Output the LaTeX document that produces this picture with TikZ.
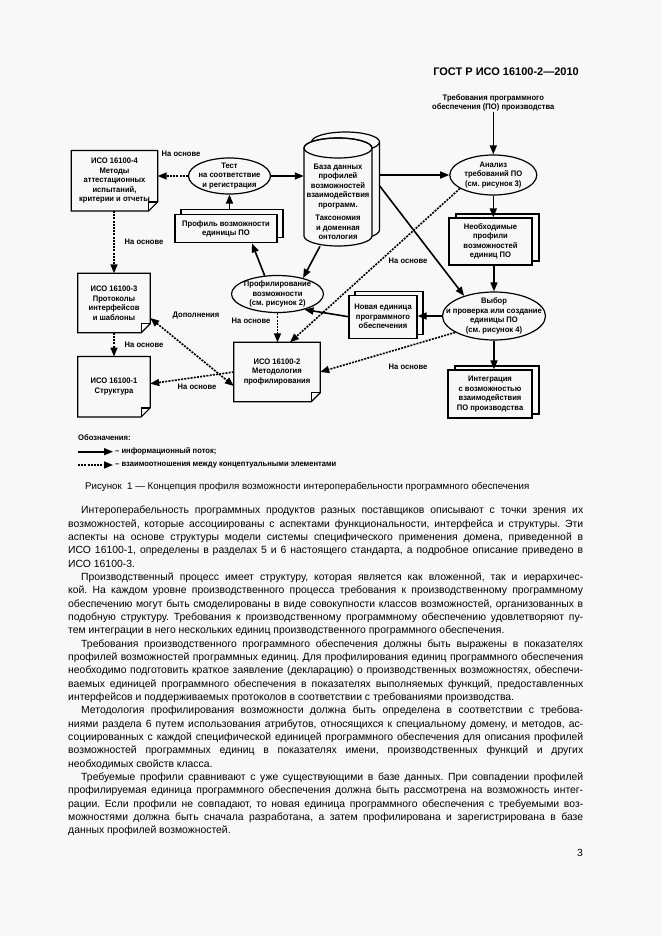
\documentclass[tikz,border=0pt]{standalone}
\usepackage{fontspec}
\setmainfont{Liberation Sans}
\newfontfamily\dgfam[FakeStretch=0.95]{Liberation Sans}
\usetikzlibrary{arrows.meta,calc,shapes.geometric}
\definecolor{bg}{RGB}{248,248,248}
\frenchspacing
\newcommand\dgf{\dgfam\bfseries\fontsize{8}{9.5}\selectfont}
\newcommand\docoutline[1]{%
  \draw[lw] (#1.north west) -- (#1.north east) -- ([yshift=9pt]#1.south east) -- ([xshift=-9pt]#1.south east) -- (#1.south west) -- cycle;
  \draw[lw] ([xshift=-9pt]#1.south east) -- ([xshift=-9pt,yshift=9pt]#1.south east) -- ([yshift=9pt]#1.south east);}
\tikzset{
  lw/.style={line width=1.2pt, line join=miter},
  every node/.style={inner sep=0pt},
  lbl/.style={font=\dgf, align=center},
  docbox/.style={font=\dgf, align=center},
  pbox/.style={draw, lw, fill=bg, font=\dgf, align=center},
  bkbox/.style={draw, lw},
  ell/.style={ellipse, draw, lw, fill=bg, font=\dgf, align=center, inner sep=-30pt},
  tip/.tip={Triangle[length=9pt,width=7pt]},
  arr/.style={line width=1.6pt, -tip},
  darr/.style={line width=1.6pt, dash pattern=on 2pt off 1.2pt, -tip},
  ddarr/.style={line width=1.6pt, dash pattern=on 2pt off 1.2pt, tip-tip},
}
\begin{document}
\begin{tikzpicture}[x=1pt,y=-1pt]
\fill[bg] (0,0) rectangle (661,936);
\useasboundingbox (0,0) rectangle (661,936);

% header
\node[anchor=east, font=\fontsize{11}{13}\selectfont\bfseries] (hdr) at (579,72) {ГОСТ Р ИСО 16100-2—2010};

% ---------- left column documents
\node[docbox, minimum width=86pt, minimum height=60pt] (iso4) at (114.5,180.7) {ИСО 16100-4\\Методы\\аттестационных\\испытаний,\\критерии и отчеты};
\docoutline{iso4}
\node[docbox, minimum width=72pt, minimum height=59pt] (iso3) at (114,303) {ИСО 16100-3\\Протоколы\\интерфейсов\\и шаблоны};
\docoutline{iso3}
\node[docbox, minimum width=72pt, minimum height=60pt] (iso1) at (114,386.7) {ИСО 16100-1\\Структура};
\docoutline{iso1}
\node[docbox, minimum width=86pt, minimum height=59pt] (iso2) at (277,372) {ИСО 16100-2\\Методология\\профилирования};
\docoutline{iso2}

% ---------- ellipses
\node[ell, minimum width=82pt, minimum height=36pt] (test) at (229.5,176) {Тест\\на соответствие\\и регистрация};
\node[ell, minimum width=87pt, minimum height=40pt] (anal) at (493.3,175) {Анализ\\требований ПО\\(см. рисунок 3)};
\node[ell, minimum width=92pt, minimum height=37pt] (prof) at (277.5,294) {Профилирование\\возможности\\(см. рисунок 2)};
\node[ell, minimum width=103pt, minimum height=48pt] (vyb) at (494,316) {Выбор\\и проверка или создание\\единицы ПО\\(см. рисунок 4)};

% ---------- double boxes
\node[bkbox, minimum width=102pt, minimum height=28pt] (profbk) at (232,223.8) {};
\node[pbox, minimum width=102pt, minimum height=28pt] (profbox) at (226,228.8) {Профиль возможности\\единицы ПО};

\node[bkbox, minimum width=83pt, minimum height=47pt] (needbk) at (497.5,237.5) {};
\node[pbox, minimum width=83pt, minimum height=47pt] (need) at (490.5,241.5) {Необходимые\\профили\\возможностей\\единиц ПО};

\node[bkbox, minimum width=84pt, minimum height=48pt] (integbk) at (497,390) {};
\node[pbox, minimum width=84pt, minimum height=48pt] (integ) at (490,394) {Интеграция\\с возможностью\\взаимодействия\\ПО производства};

\node[bkbox, minimum width=68pt, minimum height=43pt] (newbk) at (389,312.7) {};
\node[pbox, minimum width=68pt, minimum height=43pt] (new) at (383,316.7) {Новая единица\\программного\\обеспечения};

% ---------- database cylinder
\draw[lw] (345.5,142) ellipse[x radius=34pt, y radius=10pt];
\draw[lw] (311.5,142) -- (311.5,230) arc[start angle=180, end angle=360, x radius=34pt, y radius=10pt] -- (379.5,142);
\filldraw[lw, fill=bg] (304,148) -- (304,236) arc[start angle=180, end angle=360, x radius=34pt, y radius=10pt] -- (372,148) arc[start angle=0, end angle=180, x radius=34pt, y radius=10pt] -- cycle;
\draw[lw] (338,148) ellipse[x radius=34pt, y radius=10pt];
\node[minimum width=68pt, minimum height=108pt] (db) at (338,192) {};
\node[minimum width=68pt, minimum height=108pt] (dbk) at (345.5,186) {};
\node[lbl] (dbtxt) at (338,202) {База данных\\профилей\\возможностей\\взаимодействия\\программ.\\[4pt]Таксономия\\и доменная\\онтология};

% requirements text
\node[lbl] (req) at (493.3,103) {Требования программного\\обеспечения (ПО) производства};

% ---------- connectors (solid)
\draw[arr] (test.east) -- (test.east -| db.west);
\draw[arr] (test.south |- profbk.north) -- (test.south);
\draw[arr] (anal.west -| dbk.east) -- (anal.west);
\draw[arr] (req.south) -- (anal.north);
\draw[arr] (anal.south) -- (anal.south |- need.north);
\draw[arr] (vyb.north |- need.south) -- (vyb.north);
\draw[arr] (vyb.south) -- (vyb.south |- integ.north);
\draw[arr] (vyb.west) -- (vyb.west -| new.east);
\draw[arr] (new.west) -- (prof.-30);
\draw[arr] (prof.125) -- ([xshift=26pt]profbox.south);
\draw[arr] ([xshift=-18pt]db.south) -- (prof.32);
\draw[arr] (dbk.east) -- (vyb.146);

% ---------- connectors (dashed)
\draw[darr] (test.west) -- (test.west -| iso4.east);
\draw[darr] (iso3.north |- iso4.south) -- (iso3.north);
\draw[darr] (iso3.south) -- (iso1.north);
\draw[ddarr] ([yshift=-15pt]iso3.east) -- ([yshift=-14pt]iso2.west);
\draw[darr] (iso2.west) -- ([yshift=3pt]iso1.east);
\draw[darr] (prof.south) -- (prof.south |- iso2.north);
\draw[darr] (anal.202) -- ([xshift=13pt]iso2.north);
\draw[darr] (vyb.203) -- (iso2.east);

% ---------- labels
\node[lbl] (l1) at (181,154) {На основе};
\node[lbl] (l2) at (144,242) {На основе};
\node[lbl] (l3) at (144,345) {На основе};
\node[lbl] (l4) at (196,316) {Дополнения};
\node[lbl] (l5) at (251,321) {На основе};
\node[lbl] (l6) at (197,387) {На основе};
\node[lbl] (l7) at (408,261) {На основе};
\node[lbl] (l8) at (408,367) {На основе};

% ---------- legend
\node[lbl, anchor=west] (legt) at (78,438) {Обозначения:};
\coordinate (la) at (78,451.7);
\node[lbl, anchor=west] (leg1) at (115,451.7) {– информационный поток;};
\draw[arr] (la) -- ([xshift=-2pt]leg1.west);
\coordinate (lb) at (78,465);
\node[lbl, anchor=west] (leg2) at (115,465) {– взаимоотношения между концептуальными элементами};
\draw[darr] (lb) -- ([xshift=-2pt]leg2.west);

% caption
\node[anchor=west, font=\fontsize{9.7}{11}\selectfont] (cap) at (85,487) {Рисунок\ \ 1 — Концепция профиля возможности интероперабельности программного обеспечения};

% body text
\node[anchor=north west] (body) at (68,506) {\parbox{515pt}{\fontsize{10.4}{13.33}\selectfont
\setlength\parindent{13pt}\setlength\parskip{0pt}\tolerance=9999 \hbadness=10000 \exhyphenpenalty=10000 \hyphenpenalty=10000
Интероперабельность программных продуктов разных поставщиков описывают с точки зрения их\linebreak
возможностей, которые ассоциированы с аспектами функциональности, интерфейса и структуры. Эти\linebreak
аспекты на основе структуры модели системы специфического применения домена, приведенной в\linebreak
ИСО 16100-1, определены в разделах 5 и 6 настоящего стандарта, а подробное описание приведено в\linebreak
ИСО 16100-3.

Производственный процесс имеет структуру, которая является как вложенной, так и иерархичес-\linebreak
кой. На каждом уровне производственного процесса требования к производственному программному\linebreak
обеспечению могут быть смоделированы в виде совокупности классов возможностей, организованных в\linebreak
подобную структуру. Требования к производственному программному обеспечению удовлетворяют пу-\linebreak
тем интеграции в него нескольких единиц производственного программного обеспечения.

Требования производственного программного обеспечения должны быть выражены в показателях\linebreak
профилей возможностей программных единиц. Для профилирования единиц программного обеспечения\linebreak
необходимо подготовить краткое заявление (декларацию) о производственных возможностях, обеспечи-\linebreak
ваемых единицей программного обеспечения в показателях выполняемых функций, предоставленных\linebreak
интерфейсов и поддерживаемых протоколов в соответствии с требованиями производства.

Методология профилирования возможности должна быть определена в соответствии с требова-\linebreak
ниями раздела 6 путем использования атрибутов, относящихся к специальному домену, и методов, ас-\linebreak
социированных с каждой специфической единицей программного обеспечения для описания профилей\linebreak
возможностей программных единиц в показателях имени, производственных функций и других\linebreak
необходимых свойств класса.

Требуемые профили сравнивают с уже существующими в базе данных. При совпадении профилей\linebreak
профилируемая единица программного обеспечения должна быть рассмотрена на возможность интег-\linebreak
рации. Если профили не совпадают, то новая единица программного обеспечения с требуемыми воз-\linebreak
можностями должна быть сначала разработана, а затем профилирована и зарегистрирована в базе\linebreak
данных профилей возможностей.}};

% page number
\node[anchor=east, font=\fontsize{10.4}{13}\selectfont] (pgn) at (583,853) {3};
\end{tikzpicture}
\end{document}
